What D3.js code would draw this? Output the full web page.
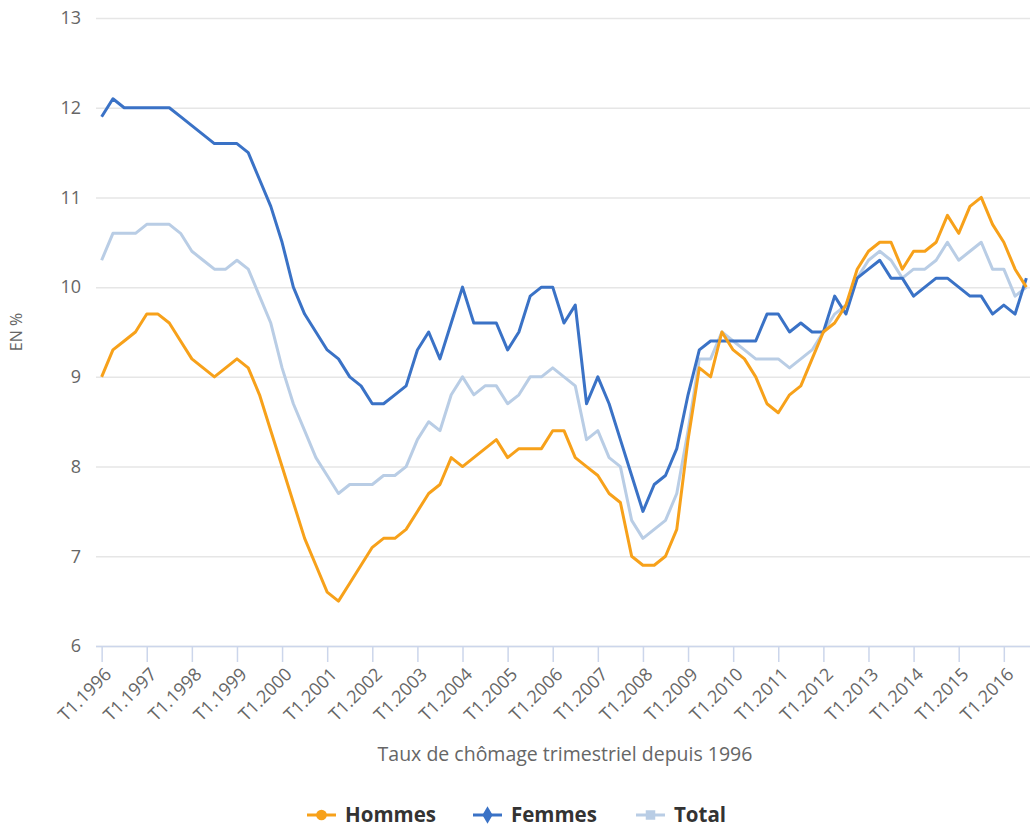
<!DOCTYPE html>
<html>
<head>
<meta charset="utf-8">
<script src="https://d3js.org/d3.v7.min.js"></script>
<style>
    body { margin: 0; background: #fff; }
    text { font-family: "Open Sans", "Noto Sans", sans-serif; }
</style>
</head>
<body>
<div class="chart"></div>
<script>
    // trimestres T1.1996 -> T3.2016
    var annees = d3.range(1996, 2017);
    var trimestres = [];
    annees.forEach(function(a){
        [1,2,3,4].forEach(function(t){
            if (a == 2016 && t > 3) return;
            trimestres.push("T" + t + "." + a);
        });
    });
    var ticksX = annees.map(function(a){ return "T1." + a; });
    var ticksY = [6, 7, 8, 9, 10, 11, 12, 13];

    var hommes = [9.0,9.3,9.4,9.5,9.7,9.7,9.6,9.4,9.2,9.1,9.0,9.1,9.2,9.1,8.8,8.4,8.0,7.6,7.2,6.9,
        6.6,6.5,6.7,6.9,7.1,7.2,7.2,7.3,7.5,7.7,7.8,8.1,8.0,8.1,8.2,8.3,8.1,8.2,8.2,8.2,
        8.4,8.4,8.1,8.0,7.9,7.7,7.6,7.0,6.9,6.9,7.0,7.3,8.3,9.1,9.0,9.5,9.3,9.2,9.0,8.7,
        8.6,8.8,8.9,9.2,9.5,9.6,9.8,10.2,10.4,10.5,10.5,10.2,10.4,10.4,10.5,10.8,10.6,10.9,11.0,10.7,
        10.5,10.2,10.0];
    var femmes = [11.9,12.1,12.0,12.0,12.0,12.0,12.0,11.9,11.8,11.7,11.6,11.6,11.6,11.5,11.2,10.9,10.5,10.0,9.7,9.5,
        9.3,9.2,9.0,8.9,8.7,8.7,8.8,8.9,9.3,9.5,9.2,9.6,10.0,9.6,9.6,9.6,9.3,9.5,9.9,10.0,
        10.0,9.6,9.8,8.7,9.0,8.7,8.3,7.9,7.5,7.8,7.9,8.2,8.8,9.3,9.4,9.4,9.4,9.4,9.4,9.7,
        9.7,9.5,9.6,9.5,9.5,9.9,9.7,10.1,10.2,10.3,10.1,10.1,9.9,10.0,10.1,10.1,10.0,9.9,9.9,9.7,
        9.8,9.7,10.1];
    var total = [10.3,10.6,10.6,10.6,10.7,10.7,10.7,10.6,10.4,10.3,10.2,10.2,10.3,10.2,9.9,9.6,9.1,8.7,8.4,8.1,
        7.9,7.7,7.8,7.8,7.8,7.9,7.9,8.0,8.3,8.5,8.4,8.8,9.0,8.8,8.9,8.9,8.7,8.8,9.0,9.0,
        9.1,9.0,8.9,8.3,8.4,8.1,8.0,7.4,7.2,7.3,7.4,7.7,8.4,9.2,9.2,9.5,9.4,9.3,9.2,9.2,
        9.2,9.1,9.2,9.3,9.5,9.7,9.8,10.1,10.3,10.4,10.3,10.1,10.2,10.2,10.3,10.5,10.3,10.4,10.5,10.2,
        10.2,9.9,10.0];

    var series = [
        {nom: "Total", valeurs: total, couleur: "#b9cde5"},
        {nom: "Femmes", valeurs: femmes, couleur: "#3a72c6"},
        {nom: "Hommes", valeurs: hommes, couleur: "#f7a11a"}
    ];

    var w = 1030, h = 827;
    var mLeft = 96, mTop = 18, mBottom = 646;

    var svg = d3.select("div.chart").append("svg")
        .attr("width", w).attr("height", h);

    var xScale = d3.scalePoint().domain(trimestres).range([mLeft, 1032]).padding(0.5);
    var yScale = d3.scaleLinear().domain([6, 13]).range([mBottom, mTop]);

    // grille horizontale
    svg.append("g").selectAll("line").data(ticksY).enter().append("line")
        .attr("x1", mLeft).attr("x2", w)
        .attr("y1", function(d){ return yScale(d) + 0.5; })
        .attr("y2", function(d){ return yScale(d) + 0.5; })
        .attr("stroke", "#e6e6e6").attr("stroke-width", 1.5);

    // axe Y
    var yAxis = svg.append("g")
        .attr("transform", "translate(" + mLeft + ",0)")
        .call(d3.axisLeft(yScale).tickValues(ticksY).tickFormat(d3.format("d")).tickSize(0).tickPadding(15));
    yAxis.select(".domain").remove();
    yAxis.selectAll("text").attr("fill", "#666").style("font-size", "18px");

    svg.append("text")
        .attr("transform", "translate(22," + ((mTop + mBottom) / 2) + ") rotate(-90)")
        .attr("text-anchor", "middle")
        .attr("fill", "#666").style("font-size", "16px")
        .text("EN %");

    // axe X
    var xAxis = svg.append("g")
        .attr("transform", "translate(0," + mBottom + ")")
        .call(d3.axisBottom(xScale).tickValues(ticksX).tickSize(16).tickSizeOuter(0));
    xAxis.select(".domain").attr("stroke", "#ccd6eb").attr("stroke-width", 1.5)
        .attr("d", "M" + mLeft + ",0.5H" + w);
    xAxis.selectAll(".tick line").attr("stroke", "#ccd6eb").attr("stroke-width", 1.5);
    xAxis.selectAll("text")
        .attr("fill", "#666").style("font-size", "18px")
        .attr("text-anchor", "end")
        .attr("x", 0).attr("y", 0).attr("dy", "0.35em")
        .attr("transform", "translate(6,25) rotate(-45)");

    svg.append("text")
        .attr("x", 565).attr("y", 761)
        .attr("text-anchor", "middle")
        .attr("fill", "#666").style("font-size", "19.5px")
        .text("Taux de chômage trimestriel depuis 1996");

    // courbes
    var ligne = d3.line()
        .x(function(d, i){ return xScale(trimestres[i]); })
        .y(function(d){ return yScale(d); });

    svg.append("g").selectAll("path").data(series).enter().append("path")
        .attr("fill", "none")
        .attr("stroke", function(d){ return d.couleur; })
        .attr("stroke-width", 3)
        .attr("stroke-linejoin", "round")
        .attr("d", function(d){ return ligne(d.valeurs); });

    // legende
    var legende = [
        {nom: "Hommes", couleur: "#f7a11a", symbole: d3.symbolCircle, x: 307},
        {nom: "Femmes", couleur: "#3a72c6", symbole: d3.symbolDiamond, x: 473},
        {nom: "Total", couleur: "#b9cde5", symbole: d3.symbolSquare, x: 636}
    ];
    var items = svg.append("g").selectAll("g").data(legende).enter().append("g")
        .attr("transform", function(d){ return "translate(" + d.x + ",815)"; });
    items.append("line")
        .attr("x1", 0).attr("x2", 29)
        .attr("stroke", function(d){ return d.couleur; })
        .attr("stroke-width", 3);
    items.append("path")
        .attr("transform", "translate(14.5,0)")
        .attr("d", function(d){ return d3.symbol().type(d.symbole).size(90)(); })
        .attr("fill", function(d){ return d.couleur; });
    items.append("text")
        .attr("x", 38).attr("dy", "0.35em")
        .attr("fill", "#333")
        .style("font-size", "20.5px").style("font-weight", "bold")
        .text(function(d){ return d.nom; });
</script>
</body>
</html>
